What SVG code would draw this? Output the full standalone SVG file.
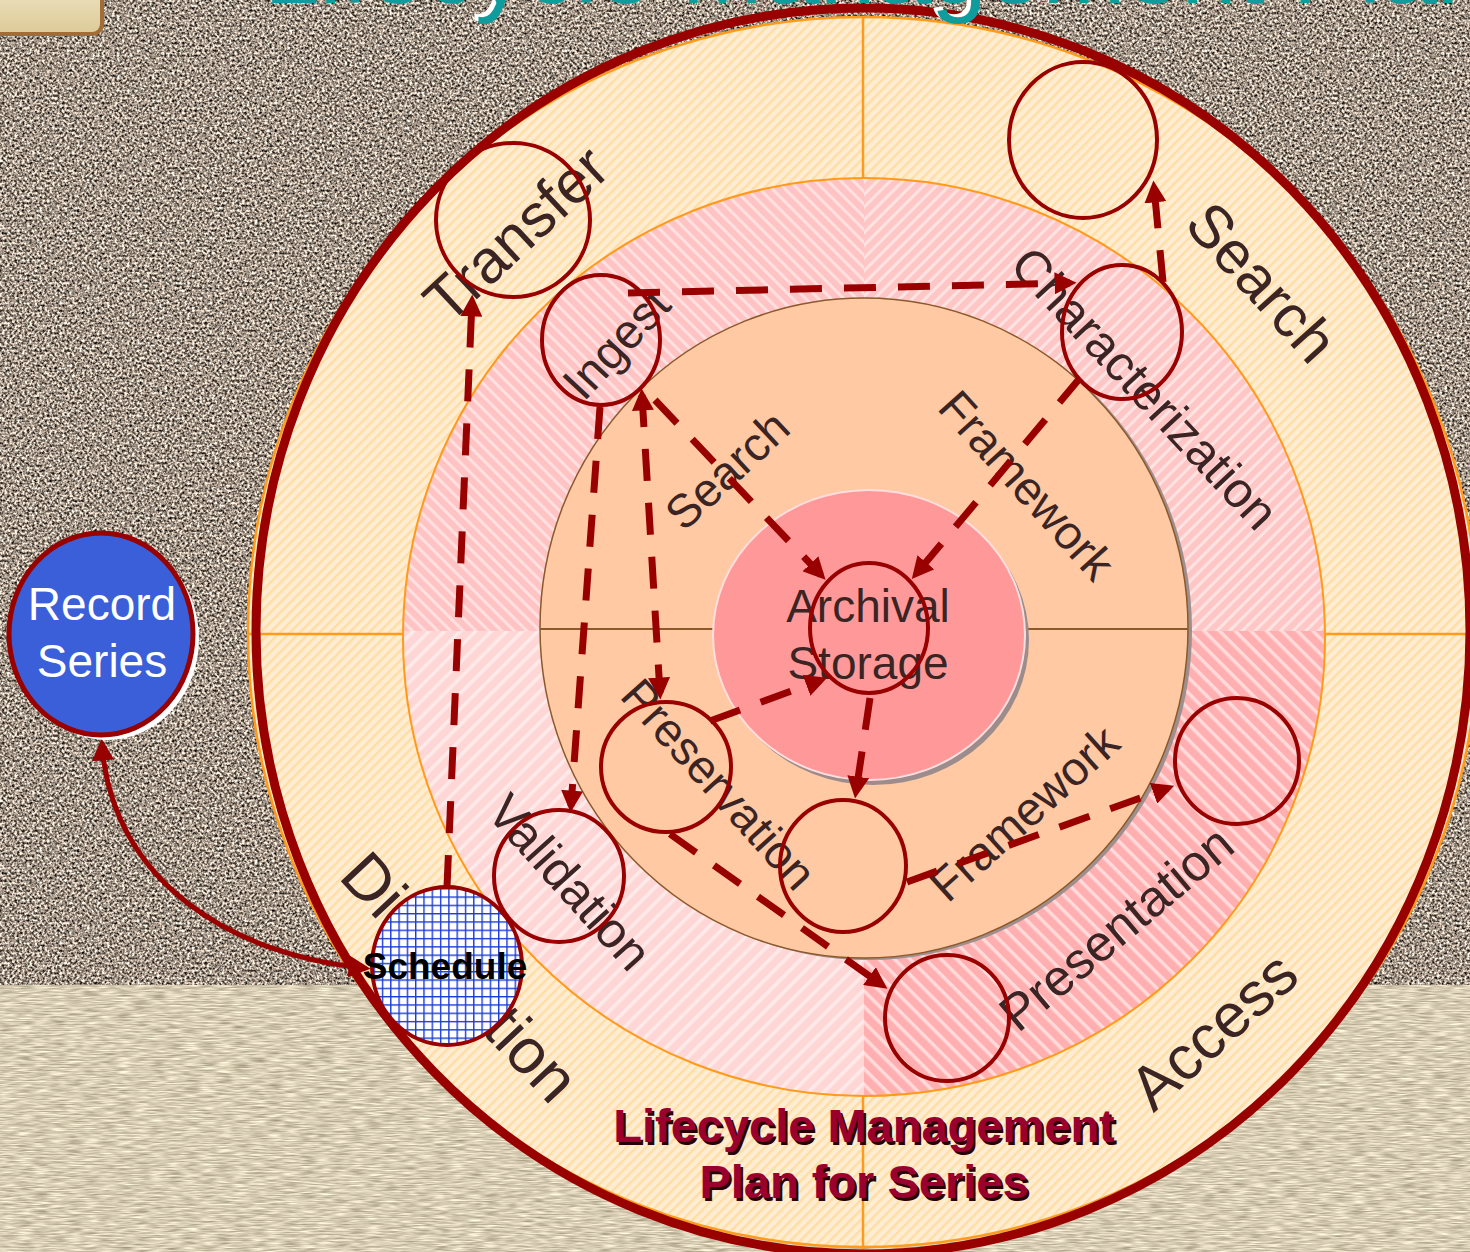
<svg xmlns="http://www.w3.org/2000/svg" width="1470" height="1252" viewBox="0 0 1470 1252">
  <defs>
    <style>
      .lbl { font-family: "Liberation Sans", Arial, sans-serif; fill: #3b2424; text-anchor: middle; }
      .node { fill: none; stroke: #990000; stroke-width: 4; }
      .conn { fill: none; stroke: #990000; stroke-width: 7; stroke-dasharray: 32 22; }
      .link { fill: none; stroke: #990000; stroke-width: 5; }
      .title { font-family: "Liberation Sans", Arial, sans-serif; font-weight: bold; font-size: 47px; text-anchor: middle; }
    </style>

    <!-- background textures -->
    <filter id="granite" x="0" y="0" width="1" height="1" color-interpolation-filters="sRGB">
      <feTurbulence type="fractalNoise" baseFrequency="0.4" numOctaves="2" seed="7"/>
      <feColorMatrix type="matrix" values="1.9 0 0 0 -0.32  1.8 0 0 0 -0.32  1.7 0 0 0 -0.32  0 0 0 0 1"/>
    </filter>
    <filter id="linen" x="0" y="0" width="1" height="1" color-interpolation-filters="sRGB">
      <feTurbulence type="fractalNoise" baseFrequency="0.06 0.7" numOctaves="2" seed="3"/>
      <feColorMatrix type="matrix" values="0.55 0 0 0 0.57  0.55 0 0 0 0.53  0.55 0 0 0 0.43  0 0 0 0 1"/>
    </filter>

    <!-- ring fills -->
    <pattern id="cream" width="7" height="7" patternUnits="userSpaceOnUse" patternTransform="rotate(-45)">
      <rect width="7" height="7" fill="#ffedd3"/>
      <rect width="7" height="2.5" fill="#ffdea6"/>
    </pattern>
    <pattern id="pinkUL" width="9" height="9" patternUnits="userSpaceOnUse" patternTransform="rotate(45)">
      <rect width="9" height="9" fill="#ffc3c3"/>
      <rect width="9" height="3" fill="#ffe0e0"/>
    </pattern>
    <pattern id="pinkUR" width="9" height="9" patternUnits="userSpaceOnUse" patternTransform="rotate(-45)">
      <rect width="9" height="9" fill="#ffc6c6"/>
      <rect width="9" height="3" fill="#ffe3e3"/>
    </pattern>
    <pattern id="pinkLR" width="11" height="11" patternUnits="userSpaceOnUse" patternTransform="rotate(45)">
      <rect width="11" height="11" fill="#ffafaf"/>
      <rect width="11" height="3.5" fill="#ffdada"/>
    </pattern>
    <pattern id="pinkLL" width="11" height="11" patternUnits="userSpaceOnUse" patternTransform="rotate(-45)">
      <rect width="11" height="11" fill="#ffd6d6"/>
      <rect width="11" height="3.5" fill="#ffeaea"/>
    </pattern>
    <pattern id="grid" width="8.3" height="8.3" patternUnits="userSpaceOnUse">
      <rect width="8.3" height="8.3" fill="#ffffff"/>
      <path d="M0,0 H8.3 M0,0 V8.3" stroke="#1a3cd4" stroke-width="2.8"/>
    </pattern>
    <linearGradient id="btn" x1="0" y1="0" x2="0" y2="1">
      <stop offset="0" stop-color="#f1e6c4"/>
      <stop offset="1" stop-color="#dccb98"/>
    </linearGradient>

    <clipPath id="cUL"><rect x="0" y="0" width="864" height="631"/></clipPath>
    <clipPath id="cUR"><rect x="864" y="0" width="606" height="631"/></clipPath>
    <clipPath id="cLL"><rect x="0" y="631" width="864" height="621"/></clipPath>
    <clipPath id="cLR"><rect x="864" y="631" width="606" height="621"/></clipPath>

    <marker id="ah" viewBox="0 0 10 10" refX="7" refY="5" markerWidth="22" markerHeight="22" markerUnits="userSpaceOnUse" orient="auto-start-reverse">
      <path d="M0,0 L10,5 L0,10 Z" fill="#990000"/>
    </marker>
  </defs>

  <!-- backdrop -->
  <rect x="0" y="0" width="1470" height="986" filter="url(#granite)"/>
  <rect x="0" y="985" width="1470" height="267" filter="url(#linen)"/>
  <rect x="-15" y="-20" width="117" height="54" rx="10" fill="url(#btn)" stroke="#a26c34" stroke-width="4"/>

  <!-- outer ring -->
  <g id="outer-ring">
    <circle cx="863" cy="632" r="615" fill="url(#cream)" stroke="#ff9a1a" stroke-width="2.5"/>
    <path d="M863,18 V1252 M248,634 H1478" stroke="#ff9a1a" stroke-width="2.5" fill="none"/>
    <ellipse cx="863" cy="631" rx="607" ry="623" fill="none" stroke="#990000" stroke-width="9"/>
  </g>

  <!-- middle ring, four quadrants -->
  <g id="middle-ring">
    <ellipse cx="864" cy="637" rx="461" ry="459" fill="url(#pinkUL)" clip-path="url(#cUL)"/>
    <ellipse cx="864" cy="637" rx="461" ry="459" fill="url(#pinkUR)" clip-path="url(#cUR)"/>
    <ellipse cx="864" cy="637" rx="461" ry="459" fill="url(#pinkLR)" clip-path="url(#cLR)"/>
    <ellipse cx="864" cy="637" rx="461" ry="459" fill="url(#pinkLL)" clip-path="url(#cLL)"/>
    <ellipse cx="864" cy="637" rx="461" ry="459" fill="none" stroke="#ff9a1a" stroke-width="2"/>
  </g>

  <!-- inner ring -->
  <g id="inner-ring">
    <ellipse cx="868" cy="630" rx="324" ry="330" fill="#9e8e8e"/>
    <ellipse cx="864" cy="628" rx="324" ry="330" fill="#ffc9a3" stroke="#8b5a2b" stroke-width="1.5"/>
    <path d="M540,629 H1188" stroke="#8b5a2b" stroke-width="2" fill="none"/>
  </g>

  <!-- core disk -->
  <g id="archival-storage">
    <ellipse cx="873" cy="640" rx="156" ry="145" fill="#9c8c8c"/>
    <ellipse cx="869" cy="635" rx="156" ry="145" fill="#ff9999" stroke="#ffdede" stroke-width="2"/>
    <text class="lbl" x="868" y="622" font-size="46">Archival</text>
    <text class="lbl" x="868" y="679" font-size="46">Storage</text>
    <ellipse class="node" cx="869" cy="628" rx="59" ry="65"/>
  </g>

  <!-- ring labels -->
  <g id="ring-labels" class="lbl">
    <text font-size="61" y="21" transform="translate(516,234) rotate(-43)">Transfer</text>
    <text font-size="60" y="21" transform="translate(1262,282) rotate(48)">Search</text>
    <text font-size="62" y="22" transform="translate(1213,1030) rotate(-42)">Access</text>
    <text font-size="64" y="22" transform="translate(460,977) rotate(47)">Disposition</text>

    <text font-size="48" y="17" transform="translate(616,343) rotate(-47)">Ingest</text>
    <text font-size="50" y="17.5" transform="translate(1145,388) rotate(47)">Characterization</text>
    <text font-size="50" y="17.5" transform="translate(570,882) rotate(48)">Validation</text>
    <text font-size="51" y="18" transform="translate(1116,928) rotate(-40)">Presentation</text>

    <text font-size="47" y="16.5" transform="translate(727,470) rotate(-43)">Search</text>
    <text font-size="47" y="16.5" transform="translate(1027,485) rotate(48)">Framework</text>
    <text font-size="47" y="16.5" transform="translate(719,784) rotate(48)">Preservation</text>
    <text font-size="47" y="16.5" transform="translate(1024,813) rotate(-42)">Framework</text>
  </g>

  <!-- process nodes -->
  <g id="transfer"><circle class="node" cx="513" cy="220" r="77"/></g>
  <g id="ingest"><ellipse class="node" cx="601" cy="340" rx="59" ry="65"/></g>
  <g id="search-node"><ellipse class="node" cx="1083" cy="140" rx="74" ry="78"/></g>
  <g id="characterization"><ellipse class="node" cx="1122" cy="332" rx="60" ry="67"/></g>
  <g id="preservation"><ellipse class="node" cx="666" cy="767" rx="65" ry="65"/></g>
  <g id="framework-node"><ellipse class="node" cx="843" cy="866" rx="63" ry="66"/></g>
  <g id="presentation-node"><ellipse class="node" cx="1237" cy="761" rx="62" ry="63"/></g>
  <g id="validation"><ellipse class="node" cx="559" cy="876" rx="65" ry="66"/></g>
  <g id="access-node"><ellipse class="node" cx="947" cy="1018" rx="62" ry="63"/></g>

  <!-- connectors -->
  <g id="connectors">
    <path class="conn" d="M447,887 L472,301" marker-end="url(#ah)"/>
    <path class="conn" d="M628,293 L1070,283" marker-end="url(#ah)"/>
    <path class="conn" d="M1163,282 L1154,187" marker-end="url(#ah)"/>
    <path class="conn" d="M600,407 L571,806" marker-end="url(#ah)"/>
    <path class="conn" d="M642,395 L660,693" marker-start="url(#ah)" marker-end="url(#ah)"/>
    <path class="conn" d="M655,400 L821,575" marker-end="url(#ah)"/>
    <path class="conn" d="M1080,378 L916,574" marker-end="url(#ah)"/>
    <path class="conn" d="M710,721 L821,680" marker-end="url(#ah)"/>
    <path class="conn" d="M870,698 L856,792" marker-end="url(#ah)"/>
    <path class="conn" d="M907,882 L1168,788" marker-end="url(#ah)"/>
    <path class="conn" d="M670,834 L882,985" marker-end="url(#ah)"/>
    <path class="link" d="M364,968 C230,955 112,880 102,745" marker-start="url(#ah)" marker-end="url(#ah)"/>
  </g>

  <!-- schedule -->
  <g id="schedule">
    <ellipse cx="447" cy="966" rx="75" ry="79" fill="url(#grid)" stroke="#990000" stroke-width="4"/>
    <text x="445" y="979" font-family="Liberation Sans, Arial, sans-serif" font-weight="bold" font-size="37" text-anchor="middle" fill="#000000">Schedule</text>
  </g>

  <!-- record series -->
  <g id="record-series">
    <ellipse cx="107" cy="639" rx="92" ry="101" fill="#ffffff"/>
    <ellipse cx="101" cy="634" rx="92" ry="101" fill="#3b5fd8" stroke="#990000" stroke-width="5"/>
    <text x="102" y="620" font-family="Liberation Sans, Arial, sans-serif" font-size="46" text-anchor="middle" fill="#ffffff">Record</text>
    <text x="102" y="677" font-family="Liberation Sans, Arial, sans-serif" font-size="46" text-anchor="middle" fill="#ffffff">Series</text>
  </g>

  <!-- plan caption -->
  <g id="caption">
    <text class="title" x="866.5" y="1144.5" fill="#2a0008">Lifecycle Management</text>
    <text class="title" x="866.5" y="1200.5" fill="#2a0008">Plan for Series</text>
    <text class="title" x="864" y="1142" fill="#99002e">Lifecycle Management</text>
    <text class="title" x="864" y="1198" fill="#99002e">Plan for Series</text>
  </g>

  <!-- page heading, running off the top edge -->
  <g id="heading" font-family="Liberation Sans, Arial, sans-serif" font-size="100">
    <text x="260" y="0" fill="#ffffff">Lifecycle Management Plan</text>
    <text x="264" y="3" fill="#109c9c">Lifecycle Management Plan</text>
  </g>
</svg>
